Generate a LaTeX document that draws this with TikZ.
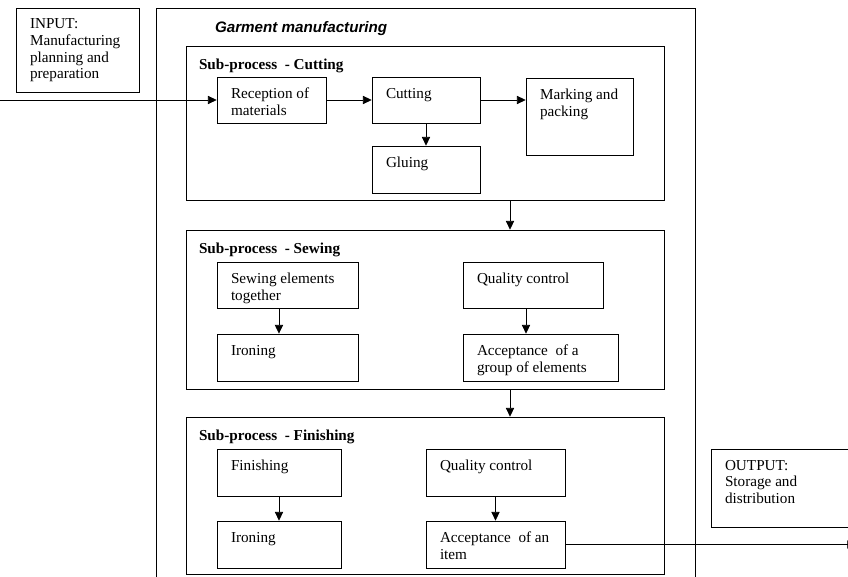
\documentclass[tikz,border=0pt]{standalone}
\usepackage{fontspec}
\setmainfont{Liberation Serif}
\newfontfamily\titlefont{Liberation Sans}
\usetikzlibrary{arrows.meta,fit}

\begin{document}
\begin{tikzpicture}[x=0.75pt,y=-0.75pt,semithick,>={Triangle[length=6.5pt,width=6.2pt]}]
    \tikzstyle{boxtxt}=[anchor=north west,inner sep=0pt,align=left,font=\fontsize{11.4}{12.4}\selectfont,xshift=10.5pt,yshift=-8.25pt]
    \tikzstyle{subtitle}=[style=boxtxt,font=\fontsize{11.4}{12.4}\selectfont\bfseries,xshift=-0.75pt,yshift=-1.5pt]
    \tikzstyle{procbox}=[draw,rectangle,inner sep=0pt]

    \clip (0,0) rectangle (848,577);

    % input / output
    \node[procbox,fit={(16,8) (139,92)},label={[boxtxt]north west:{INPUT:\\Manufacturing\\planning and\\preparation}}] (input) {};
    \node[procbox,fit={(711,449) (870,527)},label={[boxtxt]north west:{OUTPUT:\\Storage and\\distribution}}] (output) {};

    % garment manufacturing and its sub-processes
    \node[procbox,fit={(156,8) (695,600)},label={[boxtxt,font=\fontsize{11.4}{12.4}\titlefont\bfseries\itshape,xshift=33.75pt,yshift=-1.5pt]north west:Garment manufacturing}] (garment) {};
    \node[procbox,fit={(186,46) (664,200)},label={[subtitle]north west:Sub-process~ - Cutting}] (cutting) {};
    \node[procbox,fit={(186,230) (664,389)},label={[subtitle]north west:Sub-process~ - Sewing}] (sewing) {};
    \node[procbox,fit={(186,417) (664,574)},label={[subtitle]north west:Sub-process~ - Finishing}] (finishing) {};

    % cutting
    \node[procbox,fit={(217,77) (326,123)},label={[boxtxt]north west:{Reception of\\materials}}] (rec) {};
    \node[procbox,fit={(372,77) (480,123)},label={[boxtxt]north west:Cutting}] (cut) {};
    \node[procbox,fit={(526,78) (633,155)},label={[boxtxt]north west:{Marking and\\packing}}] (mark) {};
    \node[procbox,fit={(372,146) (480,193)},label={[boxtxt]north west:Gluing}] (glue) {};

    % sewing
    \node[procbox,fit={(217,262) (358,308)},label={[boxtxt]north west:{Sewing elements\\together}}] (sewel) {};
    \node[procbox,fit={(217,334) (358,381)},label={[boxtxt]north west:Ironing}] (iron1) {};
    \node[procbox,fit={(463,262) (603,308)},label={[boxtxt]north west:Quality control}] (qc1) {};
    \node[procbox,fit={(463,334) (618,381)},label={[boxtxt]north west:{Acceptance~ of a\\group of elements}}] (acc1) {};

    % finishing
    \node[procbox,fit={(217,449) (341,496)},label={[boxtxt]north west:Finishing}] (fin) {};
    \node[procbox,fit={(217,521) (341,568)},label={[boxtxt]north west:Ironing}] (iron2) {};
    \node[procbox,fit={(426,449) (565,496)},label={[boxtxt]north west:Quality control}] (qc2) {};
    \node[procbox,fit={(426,521) (565,568)},label={[boxtxt]north west:{Acceptance~ of an\\item}}] (acc2) {};

    \coordinate (inp) at (0,100);
    \coordinate (mid) at (510,0);
    \coordinate (outend) at (856,0);

    \draw[->] (inp) -- (rec.west);
    \draw[->] (rec) -- (cut);
    \draw[->] (cut.east) -- (cut.east -| mark.west);
    \draw[->] (cut) -- (glue);
    \draw[->] (cutting.south -| mid) -- (sewing.north -| mid);
    \draw[->] ([xshift=-6.4pt]sewel.south) -- ([xshift=-6.4pt]sewel.south |- iron1.north);
    \draw[->] ([xshift=-5.25pt]qc1.south) -- ([xshift=-5.25pt]qc1.south |- acc1.north);
    \draw[->] (sewing.south -| mid) -- (finishing.north -| mid);
    \draw[->] (fin) -- (iron2);
    \draw[->] (qc2) -- (acc2);
    \draw[->] (acc2.east) -- (acc2.east -| outend);
\end{tikzpicture}
\end{document}
